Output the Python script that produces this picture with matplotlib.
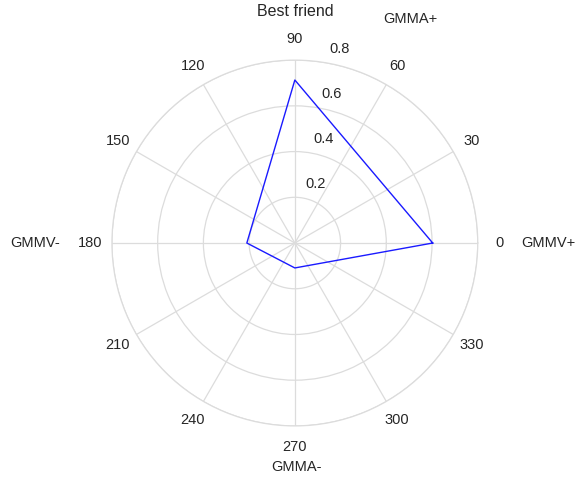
import numpy as np
import matplotlib
matplotlib.use('Agg')
import matplotlib.pyplot as plt
import matplotlib.transforms as mtransforms

plt.rcParams['font.family'] = ['Liberation Sans', 'DejaVu Sans']

# Data (angle in degrees, radius)
angles_deg = [0, 90, 180, 270]
radii = [0.603, 0.713, 0.21, 0.109]
r_ticks = [0.2, 0.4, 0.6, 0.8]
theta_ticks = list(range(0, 360, 30))
dir_labels = ['GMMV+', 'GMMA+', 'GMMV-', 'GMMA-']

text_color = '#262626'
grid_color = '#dcdcdc'

fig = plt.figure(figsize=(5.77, 4.88), dpi=100)
ax = fig.add_axes([0.194, 0.127, 0.634, 0.75], projection='polar')

theta = np.deg2rad(angles_deg + angles_deg[:1])
r = radii + radii[:1]
ax.plot(theta, r, color='#1a1aff', linewidth=1.0)

ax.set_ylim(0, 0.8)
ax.set_yticks(r_ticks)
ax.set_yticklabels([f'{t:g}' for t in r_ticks], fontsize=10.5, color=text_color)
ax.set_rlabel_position(80)
shift = mtransforms.ScaledTranslation(2 / 72, 5 / 72, fig.dpi_scale_trans)
for lbl in ax.get_yticklabels():
    lbl.set_ha('left')
    lbl.set_va('bottom')
    lbl.set_transform(lbl.get_transform() + shift)

ax.set_xticks(np.deg2rad(theta_ticks))
ax.set_xticklabels([str(t) for t in theta_ticks], fontsize=10.5, color=text_color)
ax.tick_params(axis='x', pad=5)

ax.grid(True, color=grid_color, linewidth=0.9)
ax.spines['polar'].set_color(grid_color)
ax.spines['polar'].set_linewidth(0.9)

# title and direction labels (pixel positions -> figure fractions)
W, H = 577, 488
fig.text(295 / W, 1 - 12 / H, 'Best friend', ha='center', va='center', fontsize=11.5, color=text_color)
fig.text(548 / W, 1 - 243 / H, dir_labels[0], ha='center', va='center', fontsize=10.5, color=text_color)
fig.text(410 / W, 1 - 19 / H, dir_labels[1], ha='center', va='center', fontsize=10.5, color=text_color)
fig.text(35 / W, 1 - 243 / H, dir_labels[2], ha='center', va='center', fontsize=10.5, color=text_color)
fig.text(297 / W, 1 - 467 / H, dir_labels[3], ha='center', va='center', fontsize=10.5, color=text_color)

fig.savefig('out.png', dpi=100)
